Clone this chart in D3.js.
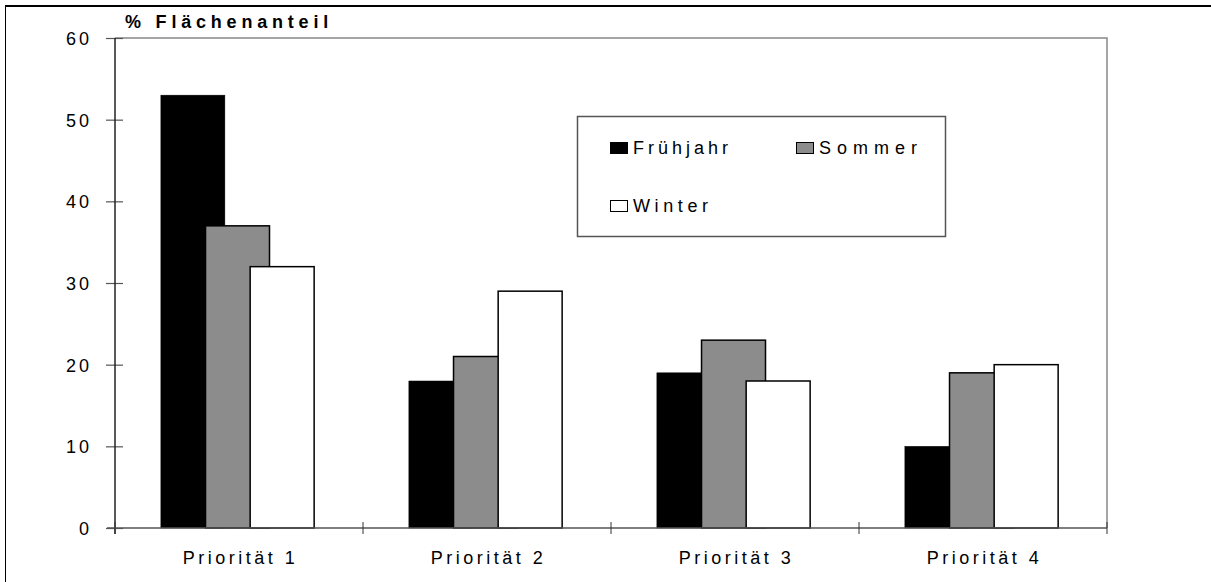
<!DOCTYPE html>
<html>
<head>
<meta charset="utf-8">
<script src="https://cdn.jsdelivr.net/npm/d3@7"></script>
<style>
  html, body { margin: 0; padding: 0; background: #fff; }
  svg { display: block; font-family: "Liberation Sans", Arial, sans-serif; }
</style>
</head>
<body>
<svg id="chart" width="1211" height="582"></svg>
<script>
const categories = ["Priorität 1", "Priorität 2", "Priorität 3", "Priorität 4"];
const seriesNames = ["Frühjahr", "Sommer", "Winter"];
const fruehjahr = [53, 18, 19, 10];
const sommer = [37, 21, 23, 19];
const winter = [32, 29, 18, 20];
const yTicks = [0, 10, 20, 30, 40, 50, 60];
const yTitle = "% Flächenanteil";

const seriesValues = [fruehjahr, sommer, winter];
const fills = ["#000000", "#8c8c8c", "#ffffff"];

const svg = d3.select("#chart");
const W = 1211, H = 582;
const mLeft = 115, mRight = 1107, mTop = 38, mBottom = 528;

// outer frame
svg.append("line").attr("x1", 5).attr("x2", W).attr("y1", 6).attr("y2", 6)
  .attr("stroke", "#000").attr("stroke-width", 2);
svg.append("line").attr("x1", 5.5).attr("x2", 5.5).attr("y1", 5).attr("y2", H)
  .attr("stroke", "#000").attr("stroke-width", 1);

const x = d3.scaleBand().domain(categories).range([mLeft, mRight]).padding(0);
const y = d3.scaleLinear().domain([0, 60]).range([mBottom, mTop]);

// plot area border (top & right, gray)
svg.append("path")
  .attr("d", `M${mLeft},${mTop}H${mRight}V${mBottom}`)
  .attr("fill", "none").attr("stroke", "#888").attr("stroke-width", 1.5);

// bars (overlapping)
const bw = x.bandwidth();
const barW = bw * 0.258;
const inner = d3.scaleLinear().domain([0, 2]).range([bw * 0.185, bw * 0.185 + bw * 0.36]);

seriesValues.forEach((vals, si) => {
  svg.append("g").selectAll("rect")
    .data(vals.map((v, i) => ({ cat: categories[i], v })))
    .join("rect")
    .attr("x", d => x(d.cat) + inner(si))
    .attr("y", d => y(d.v))
    .attr("width", barW)
    .attr("height", d => y(0) - y(d.v))
    .attr("fill", fills[si])
    .attr("stroke", "#000")
    .attr("stroke-width", si === 0 ? 0.5 : 1.5);
});

// y axis
const yAxis = d3.axisLeft(y).tickValues(yTicks).tickSize(0).tickPadding(0);
const gy = svg.append("g").attr("transform", `translate(${mLeft},0)`).call(yAxis);
gy.select(".domain").remove();
gy.selectAll(".tick text").remove();
gy.selectAll(".tick").append("line")
  .attr("x1", -9).attr("x2", 8).attr("stroke", "#555").attr("stroke-width", 1.2);
gy.selectAll(".tick").append("text")
  .attr("x", -23).attr("dy", "0.36em")
  .attr("text-anchor", "end")
  .attr("fill", "#000")
  .style("font-size", "18px").style("letter-spacing", "3px")
  .style("font-family", "Liberation Sans, Arial, sans-serif")
  .text(d => d);
svg.append("line").attr("x1", mLeft).attr("x2", mLeft).attr("y1", mTop).attr("y2", mBottom + 6)
  .attr("stroke", "#222").attr("stroke-width", 1.5);

// x axis
svg.append("line").attr("x1", mLeft - 8).attr("x2", mRight).attr("y1", mBottom).attr("y2", mBottom)
  .attr("stroke", "#555").attr("stroke-width", 1.5);
const boundaries = categories.map(c => x(c)).concat([mRight]);
svg.append("g").selectAll("line").data(boundaries).join("line")
  .attr("x1", d => d).attr("x2", d => d)
  .attr("y1", mBottom - 6).attr("y2", mBottom + 6)
  .attr("stroke", "#333").attr("stroke-width", 1);
svg.append("g").selectAll("text").data(categories).join("text")
  .attr("x", d => x(d) + bw / 2 + 1.5)
  .attr("y", 564)
  .attr("text-anchor", "middle")
  .style("font-size", "18px").style("letter-spacing", "3.5px")
  .text(d => d);

// y title
svg.append("text").attr("x", 125).attr("y", 28)
  .style("font-size", "18px").style("font-weight", "bold").style("letter-spacing", "4.8px")
  .text(yTitle);

// legend
const lg = svg.append("g");
lg.append("rect").attr("x", 577.5).attr("y", 116.5).attr("width", 368).attr("height", 120)
  .attr("fill", "#fff").attr("stroke", "#555").attr("stroke-width", 1.5);
const legPos = [[610, 154], [796, 154], [610, 212]];
const legSpacing = ["4px", "6px", "4.6px"];
seriesNames.forEach((n, i) => {
  const [lx, ly] = legPos[i];
  lg.append("rect").attr("x", lx + 0.5).attr("y", ly - 11.5).attr("width", 17).attr("height", 11)
    .attr("fill", fills[i]).attr("stroke", "#000").attr("stroke-width", 1);
  lg.append("text").attr("x", lx + 23).attr("y", ly)
    .style("font-size", "18px").style("letter-spacing", legSpacing[i])
    .text(n);
});
</script>
</body>
</html>
